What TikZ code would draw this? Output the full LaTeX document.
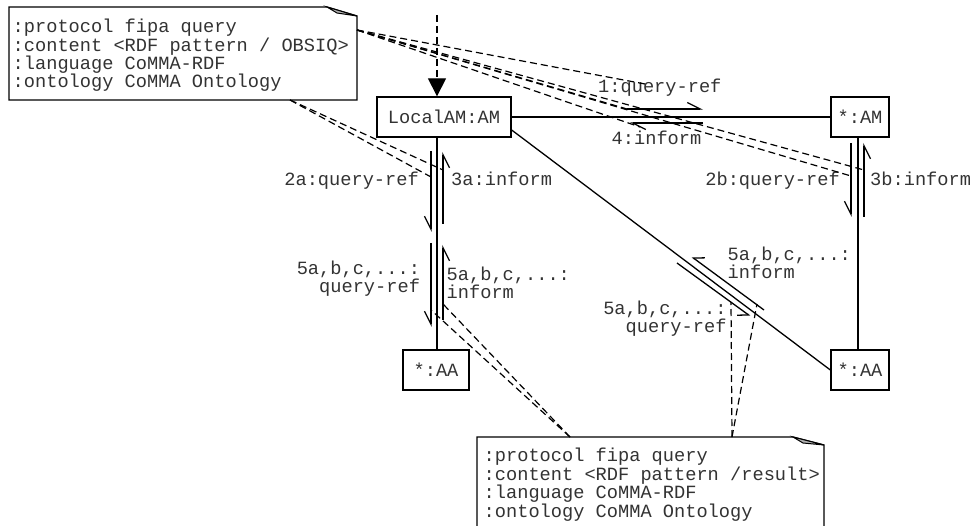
\documentclass[tikz,border=0pt]{standalone}
\usepackage{fontspec}
\setmonofont{Liberation Mono}
\usetikzlibrary{arrows.meta,calc}
\begin{document}
\begin{tikzpicture}[x=1pt,y=-1pt,
  txt/.style={font=\ttfamily\fontsize{18.67}{18.4}\selectfont, inner sep=0pt, text=black!80},
  obj/.style={txt, draw=black, line width=1.3pt, minimum height=40pt},
  link/.style={line width=1.2pt, dash pattern=on 7pt off 4pt},
  assoc/.style={line width=1.3pt},
  barbL/.style={line width=1.3pt, -{Straight Barb[harpoon,length=13pt,width=13pt]}},
  barbR/.style={line width=1.3pt, -{Straight Barb[harpoon,swap,length=13pt,width=13pt]}},
  barbD/.style={line width=1.3pt, -{Straight Barb[harpoon,swap,length=9pt,width=14pt]}},
  notebox/.style={line width=1.3pt, draw=black, fill=white},
  fold/.style={line width=1pt, draw=black, fill=black!30}
]
\useasboundingbox (0,0) rectangle (972,526);

% notes
\draw[notebox] (9,7) -- (327,7) -- (357,16) -- (357,100) -- (9,100) -- cycle;
\draw[fold] (327,7) -- (337,13) -- (357,16) -- cycle;
\node[txt, anchor=base west, align=left] (note1) at (12.5,88)
  {:protocol fipa query\\:content <RDF pattern / OBSIQ>\\:language CoMMA-RDF\\:ontology CoMMA Ontology};

\draw[notebox] (477,437) -- (793,437) -- (824,445) -- (824,530) -- (477,530) -- cycle;
\draw[fold] (793,437) -- (803,443) -- (824,445) -- cycle;
\node[txt, anchor=base west, align=left] (note2) at (483.5,517)
  {:protocol fipa query\\:content <RDF pattern /result>\\:language CoMMA-RDF\\:ontology CoMMA Ontology};

% objects
\node[obj, minimum width=134pt] (LocalAM) at (444,117) {LocalAM:AM};
\node[obj, minimum width=58pt] (AM2) at (860,117) {*:AM};
\node[obj, minimum width=66pt] (AA1) at (436,370) {*:AA};
\node[obj, minimum width=58pt] (AA2) at (860,370) {*:AA};

% links
\draw[assoc] (LocalAM.east) -- (AM2.west);
\draw[assoc] (AA1.north -| 437,0) -- (LocalAM.south -| 437,0);
\draw[assoc] ($(AM2.south)+(-2,0)$) -- ($(AA2.north)+(-2,0)$);
\draw[assoc] ($(LocalAM.east)+(0,13)$) -- (AA2.west);

% incoming message
\coordinate (start) at (437,15);
\draw[link, -{Triangle[length=18pt,width=18pt]}] (start) -- (start |- LocalAM.north);

% message arrows
\coordinate (m1s) at (627,109); \coordinate (m1e) at (703,109);
\coordinate (m4s) at (703,123); \coordinate (m4e) at (630,123);
\coordinate (m2as) at (431,151); \coordinate (m2ae) at (431,232);
\coordinate (m3as) at (443,224); \coordinate (m3ae) at (443,152);
\coordinate (m5as) at (431,243); \coordinate (m5ae) at (431,327);
\coordinate (m5bs) at (443,320); \coordinate (m5be) at (443,245);
\coordinate (m2bs) at (851,143); \coordinate (m2be) at (851,217);
\coordinate (m3bs) at (864,217); \coordinate (m3be) at (864,143);
\coordinate (m5cs) at (764,310); \coordinate (m5ce) at (692,257);
\coordinate (m5ds) at (677,263); \coordinate (m5de) at (750,316);
\draw[barbL] (m1s) -- (m1e);
\draw[barbL] (m4s) -- (m4e);
\draw[barbR] (m2as) -- (m2ae);
\draw[barbR] (m3as) -- (m3ae);
\draw[barbR] (m5as) -- (m5ae);
\draw[barbR] (m5bs) -- (m5be);
\draw[barbR] (m2bs) -- (m2be);
\draw[barbR] (m3bs) -- (m3be);
\draw[barbD] (m5cs) -- (m5ce);
\draw[barbD] (m5ds) -- (m5de);

% message labels
\node[txt, anchor=base west] (l1) at (598,93) {1:query-ref};
\node[txt, anchor=base west] (l4) at (611.5,145) {4:inform};
\node[txt, anchor=base east] (l2a) at (419,186) {2a:query-ref};
\node[txt, anchor=base west] (l3a) at (451,186) {3a:inform};
\node[txt, anchor=base east] (l2b) at (840,186) {2b:query-ref};
\node[txt, anchor=base west] (l3b) at (870,186) {3b:inform};
\node[txt, anchor=base east, align=right] (l5a) at (420.2,293) {5a,b,c,...:\\query-ref};
\node[txt, anchor=base west, align=left] (l5b) at (446.5,299) {5a,b,c,...:\\inform};
\node[txt, anchor=base west, align=left] (l5c) at (727.5,279) {5a,b,c,...:\\inform};
\node[txt, anchor=base east, align=right] (l5d) at (726.7,333) {5a,b,c,...:\\query-ref};

% note attachments
\coordinate (n1a) at (357,30);
\coordinate (n1b) at (290,100);
\coordinate (n2a) at (570,437);
\coordinate (n2b) at (732,437);
\draw[link] (n1a) -- (645,84);
\draw[link] (n1a) -- (m1s);
\draw[link] (n1a) -- (640,127);
\draw[link] (n1a) -- (864,170);
\draw[link] (n1a) -- (851,176);
\draw[link] (n1b) -- (431,177);
\draw[link] (n1b) -- (443,170);
\draw[link] (n2a) -- (431,310);
\draw[link] (n2a) -- (443,304);
\draw[link] (n2b) -- (731,302);
\draw[link] (n2b) -- (757,304);
\end{tikzpicture}
\end{document}
